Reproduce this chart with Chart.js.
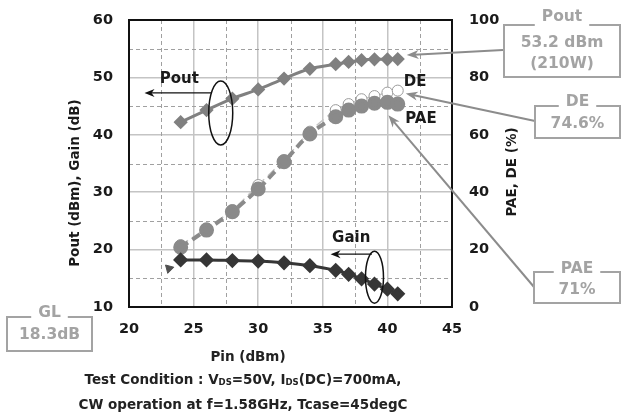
<!DOCTYPE html>
<html>
<head>
<meta charset="utf-8">
<script src="https://cdn.jsdelivr.net/npm/chart.js@4"></script>
<style>
  html, body { margin: 0; padding: 0; background: #fff; }
  #wrap { position: relative; width: 622px; height: 414px; }
  #chart { position: absolute; left: 0; top: 0; }
  .note {
    position: absolute; transform: translateX(-50%); white-space: nowrap;
    font: bold 13.5px "DejaVu Sans", sans-serif; color: #222; line-height: 16px;
  }
  .note sub { font-size: 8.5px; vertical-align: -1px; line-height: 0; }
</style>
</head>
<body>
<div id="wrap">
  <canvas id="chart" width="622" height="414"></canvas>
  <div class="note" style="left:248px; top:348px">Pin (dBm)</div>
  <div class="note" style="left:243px; top:371px">Test Condition : V<sub>DS</sub>=50V, I<sub>DS</sub>(DC)=700mA,</div>
  <div class="note" style="left:243px; top:396px">CW operation at f=1.58GHz, Tcase=45degC</div>
</div>
<script>
// input power sweep (dBm)
const pin = [24, 26, 28, 30, 32, 34, 36, 37, 38, 39, 40, 40.8];
// left axis
const poutDbm = [42.2, 44.3, 46.3, 47.9, 49.8, 51.5, 52.3, 52.7, 53.0, 53.15, 53.15, 53.2];
const gainDb  = [18.2, 18.2, 18.1, 18.0, 17.7, 17.2, 16.4, 15.7, 14.9, 14.0, 13.1, 12.3];
// right axis (%)
const paePct = [20.8, 26.8, 33.2, 41.1, 50.6, 60.3, 66.3, 68.6, 70.0, 71.0, 71.3, 70.7];
const dePct  = [21.6, 27.4, 33.8, 42.5, 51.2, 61.1, 68.6, 70.7, 72.4, 73.5, 74.7, 75.4];
// lone marker left of the gain curve
const strayPin = [23.1];
const strayVal = [16.7];

const minorX = [22.5, 27.5, 32.5, 37.5, 42.5];
const minorY = [15, 25, 35, 45, 55];

const GRAY_TXT = "#a3a3a3";
const ARROW = "#8c8c8c";

Chart.defaults.font.family = "'DejaVu Sans', sans-serif";
Chart.defaults.font.size = 14.5;
Chart.defaults.font.weight = "bold";
Chart.defaults.color = "#1a1a1a";

const pts = (xs, ys) => xs.map((x, i) => ({ x, y: ys[i] }));

function arrow(ctx, x1, y1, x2, y2, color, width, len, half) {
    const a = Math.atan2(y2 - y1, x2 - x1);
    ctx.save();
    ctx.strokeStyle = color;
    ctx.fillStyle = color;
    ctx.lineWidth = width;
    ctx.beginPath();
    ctx.moveTo(x1, y1);
    ctx.lineTo(x2 - Math.cos(a) * len * 0.6, y2 - Math.sin(a) * len * 0.6);
    ctx.stroke();
    ctx.beginPath();
    ctx.moveTo(x2, y2);
    ctx.lineTo(x2 - Math.cos(a) * len - Math.sin(a) * half, y2 - Math.sin(a) * len + Math.cos(a) * half);
    ctx.lineTo(x2 - Math.cos(a) * len * 0.7, y2 - Math.sin(a) * len * 0.7);
    ctx.lineTo(x2 - Math.cos(a) * len + Math.sin(a) * half, y2 - Math.sin(a) * len - Math.cos(a) * half);
    ctx.closePath();
    ctx.fill();
    ctx.restore();
}

function callout(ctx, x, y, w, h, title, lines, titleDy = -4) {
    ctx.save();
    ctx.font = "bold 15.5px 'DejaVu Sans', sans-serif";
    const tw = ctx.measureText(title).width;
    const cx = x + w / 2;
    ctx.strokeStyle = GRAY_TXT;
    ctx.lineWidth = 2;
    ctx.beginPath();
    ctx.moveTo(cx - tw / 2 - 7, y);
    ctx.lineTo(x, y);
    ctx.lineTo(x, y + h);
    ctx.lineTo(x + w, y + h);
    ctx.lineTo(x + w, y);
    ctx.lineTo(cx + tw / 2 + 7, y);
    ctx.stroke();
    ctx.fillStyle = GRAY_TXT;
    ctx.textAlign = "center";
    ctx.textBaseline = "middle";
    ctx.fillText(title, cx, y + titleDy);
    lines.forEach((t, i) => ctx.fillText(t, cx, y + 18 + i * 21));
    ctx.restore();
}

const decor = {
    id: "decor",
    beforeDatasetsDraw(chart) {
        const { ctx, chartArea: a, scales } = chart;
        ctx.save();
        ctx.strokeStyle = "#a0a0a0";
        ctx.lineWidth = 1;
        ctx.setLineDash([4, 3]);
        minorX.forEach(v => {
            const x = Math.round(scales.x.getPixelForValue(v)) + 0.5;
            ctx.beginPath(); ctx.moveTo(x, a.top); ctx.lineTo(x, a.bottom); ctx.stroke();
        });
        minorY.forEach(v => {
            const y = Math.round(scales.y.getPixelForValue(v)) + 0.5;
            ctx.beginPath(); ctx.moveTo(a.left, y); ctx.lineTo(a.right, y); ctx.stroke();
        });
        ctx.setLineDash([]);
        ctx.strokeStyle = "#111";
        ctx.lineWidth = 2;
        ctx.strokeRect(a.left, a.top, a.right - a.left, a.bottom - a.top);
        ctx.restore();
    },
    afterDatasetsDraw(chart) {
        const { ctx, scales } = chart;
        const X = v => scales.x.getPixelForValue(v);
        const YL = v => scales.y.getPixelForValue(v);
        const YR = v => scales.y2.getPixelForValue(v);
        ctx.save();

        // series labels, side arrows and ellipses
        ctx.font = "bold 15px 'DejaVu Sans', sans-serif";
        ctx.fillStyle = "#1a1a1a";
        ctx.textAlign = "center";
        ctx.textBaseline = "middle";
        ctx.fillText("Pout", X(23.9), YL(49.7));
        ctx.fillText("Gain", X(37.2), YL(22.0));
        ctx.fillText("DE", X(42.15), YR(78.4));
        ctx.fillText("PAE", X(42.6), YR(65.5));

        arrow(ctx, X(26.4), YL(47.3), X(21.2), YL(47.3), "#111", 1.3, 10, 4);
        arrow(ctx, X(38.8), YL(19.2), X(35.6), YL(19.2), "#111", 1.3, 10, 4);
        ctx.strokeStyle = "#111";
        ctx.lineWidth = 1.5;
        ctx.beginPath();
        ctx.ellipse(X(27.1), YL(43.8), 12, 32, 0, 0, Math.PI * 2);
        ctx.stroke();
        ctx.beginPath();
        ctx.ellipse(X(39.0), YL(15.2), 9, 26, 0, 0, Math.PI * 2);
        ctx.stroke();

        // axis titles
        ctx.font = "bold 13.5px 'DejaVu Sans', sans-serif";
        ctx.fillStyle = "#1a1a1a";
        ctx.save();
        ctx.translate(75, 183);
        ctx.rotate(-Math.PI / 2);
        ctx.fillText("Pout (dBm), Gain (dB)", 0, 0);
        ctx.restore();
        ctx.save();
        ctx.translate(512, 172);
        ctx.rotate(-Math.PI / 2);
        ctx.fillText("PAE, DE (%)", 0, 0);
        ctx.restore();

        // callouts
        const last = pin.length - 1;
        arrow(ctx, 503, 50, X(pin[last]) + 9, YL(poutDbm[last]) - 4, ARROW, 2, 12, 4.5);
        arrow(ctx, 535, 121, X(pin[last]) + 8, YR(dePct[last]) + 3, ARROW, 2, 12, 4.5);
        arrow(ctx, 534, 287, X(pin[last - 1]) + 1, YR(paePct[last - 1]) + 13, ARROW, 2, 12, 4.5);
        callout(ctx, 504, 25, 116, 52, "Pout", ["53.2 dBm", "(210W)"], -8);
        callout(ctx, 535, 106, 85, 32, "DE", ["74.6%"], -4);
        callout(ctx, 534, 272, 86, 31, "PAE", ["71%"], -3);
        callout(ctx, 7, 317, 85, 34, "GL", ["18.3dB"], -4);
        ctx.restore();
    },
};

const noPad = s => { s.paddingTop = 0; s.paddingBottom = 0; };

new Chart(document.getElementById("chart"), {
    type: "line",
    data: {
        datasets: [
            {
                data: pts(pin, poutDbm), yAxisID: "y",
                borderColor: "#808080", borderWidth: 3, tension: 0.3,
                pointStyle: "rectRot", pointRadius: 5,
                pointBackgroundColor: "#808080", pointBorderColor: "#808080",
            },
            {
                data: pts(pin, gainDb), yAxisID: "y",
                borderColor: "#363636", borderWidth: 3, tension: 0.3,
                pointStyle: "rectRot", pointRadius: 5.5,
                pointBackgroundColor: "#363636", pointBorderColor: "#363636",
            },
            {
                data: pts(pin, paePct), yAxisID: "y2",
                borderColor: "#8a8a8a", borderWidth: 4, borderDash: [9, 5], tension: 0.3,
                pointStyle: "circle", pointRadius: 5.5,
                pointBackgroundColor: "#8a8a8a", pointBorderColor: "#8a8a8a",
            },
            {
                data: pts(pin, dePct), yAxisID: "y2",
                borderColor: "#c4c4c4", borderWidth: 1.5, borderDash: [9, 5], tension: 0.3,
                pointStyle: "circle", pointRadius: 5.5, pointBorderWidth: 1,
                pointBackgroundColor: "#ffffff", pointBorderColor: "#9a9a9a",
            },
            {
                data: pts(strayPin, strayVal), yAxisID: "y", showLine: false,
                pointStyle: "triangle", pointRotation: 195, pointRadius: 5,
                pointBackgroundColor: "#505050", pointBorderColor: "#505050",
            },
        ],
    },
    options: {
        responsive: false,
        animation: false,
        layout: { padding: { top: 20, left: 0, right: 0, bottom: 0 } },
        plugins: { legend: { display: false }, tooltip: { enabled: false } },
        scales: {
            x: {
                type: "linear", min: 20, max: 45,
                ticks: { stepSize: 5, padding: 14 },
                grid: { color: "#c4c4c4", lineWidth: 1.5, drawTicks: false },
                border: { display: false },
                afterFit: s => { s.height = 107; s.paddingLeft = 0; s.paddingRight = 0; },
            },
            y: {
                position: "left", min: 10, max: 60,
                ticks: { stepSize: 10, padding: 16 },
                grid: { color: "#c4c4c4", lineWidth: 1.5, drawTicks: false },
                border: { display: false },
                afterFit: s => { s.width = 129; noPad(s); },
            },
            y2: {
                position: "right", min: 0, max: 100,
                ticks: { stepSize: 20, padding: 17 },
                grid: { drawOnChartArea: false, drawTicks: false },
                border: { display: false },
                afterFit: s => { s.width = 170; noPad(s); },
            },
        },
    },
    plugins: [decor],
});
</script>
</body>
</html>
